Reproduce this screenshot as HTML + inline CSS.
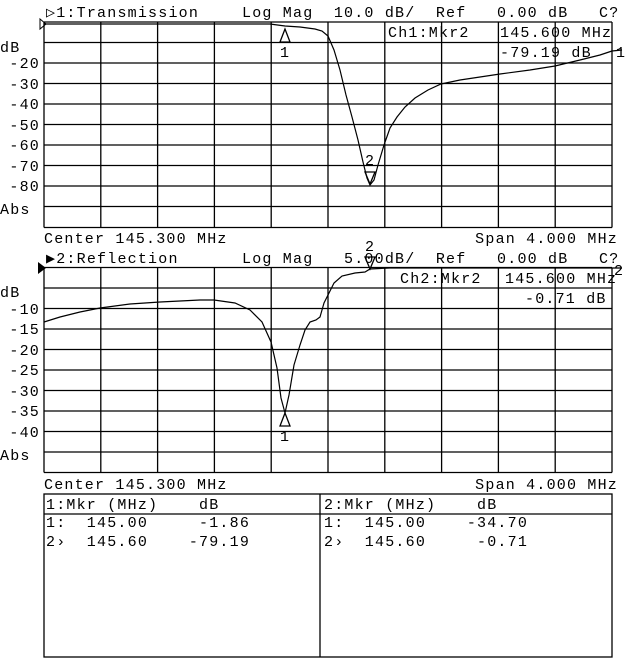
<!DOCTYPE html>
<html><head><meta charset="utf-8"><style>
html,body{margin:0;padding:0;background:#fff;}
svg{display:block;}
text{font-family:"Liberation Mono","DejaVu Sans Mono",monospace;font-size:15px;letter-spacing:1.2px;fill:#000;white-space:pre;}
</style></head><body>
<svg width="640" height="659" viewBox="0 0 640 659" xmlns="http://www.w3.org/2000/svg" xml:space="preserve">
<g stroke="#000" stroke-width="1.3" fill="none">
<path d="M44,22V227.5 M100.8,22V227.5 M157.6,22V227.5 M214.4,22V227.5 M271.2,22V227.5 M328,22V227.5 M384.8,22V227.5 M441.6,22V227.5 M498.4,22V227.5 M555.2,22V227.5 M612,22V227.5"/>
<path d="M44,22H612 M44,42.5H612 M44,63H612 M44,83.5H612 M44,104H612 M44,124.5H612 M44,145H612 M44,165.5H612 M44,186H612 M44,206.5H612 M44,227.5H612"/>
<path d="M44,267.5V472.5 M100.8,267.5V472.5 M157.6,267.5V472.5 M214.4,267.5V472.5 M271.2,267.5V472.5 M328,267.5V472.5 M384.8,267.5V472.5 M441.6,267.5V472.5 M498.4,267.5V472.5 M555.2,267.5V472.5 M612,267.5V472.5"/>
<path d="M44,267.5H612 M44,288H612 M44,308.5H612 M44,329H612 M44,349.5H612 M44,370H612 M44,390.5H612 M44,411H612 M44,431.5H612 M44,452H612 M44,472.5H612"/>
<rect x="44" y="494" width="568" height="163"/>
<path d="M320,494V657 M44,514H612"/>
<path stroke-width="1.2" d="M44,24 L270,24 L285,26 L300,27 L315,29 L322,31 L328,36 L334,50 L340,70 L346,95 L352,117 L358,140 L363,162 L367,178 L370,185 L374,180 L378,165 L384,145 L390,128 L397,117 L405,107 L415,98 L428,90 L441,84 L460,80 L480,77 L500,74 L530,70 L555,66 L580,60 L600,55 L612,51"/>
<path stroke-width="1.2" d="M44,322 L60,317 L80,312 L100,308 L130,304 L160,302 L200,300 L214,300 L235,303 L250,310 L262,322 L271,342 L277,368 L281,398 L285,413 L289,395 L294,365 L300,345 L305,330 L310,322 L316,320 L320,317 L324,303 L328,295 L334,283 L342,276 L355,273 L365,272 L370,269 L390,268 L450,268 L612,268"/>
<path d="M285,29 L280,42 L290,42 Z"/>
<path d="M370,184 L365,172 L375,172 Z"/>
<path d="M285,413 L280,426 L290,426 Z"/>
<path d="M370,269 L365,257 L375,257 Z"/>
<path d="M40,19 L46,24 L40,29 Z" stroke-width="1"/>
<path d="M612,51 L622,50"/>
<path d="M612,268 L622,268"/>
</g>
<path d="M38,262 L46,268 L38,274 Z" fill="#000"/>
<text x="46" y="17">▷1:Transmission</text>
<text x="242" y="17">Log Mag  10.0 dB/  Ref   0.00 dB   C?</text>
<text x="388" y="37">Ch1:Mkr2</text>
<text x="500" y="37">145.600 MHz</text>
<text x="500" y="57">-79.19 dB</text>
<text x="0" y="52">dB</text>
<text x="280" y="57">1</text>
<text x="365" y="165">2</text>
<text x="616" y="57">1</text>
<g text-anchor="end">
<text x="40" y="68">-20</text><text x="40" y="89">-30</text><text x="40" y="109">-40</text><text x="40" y="130">-50</text><text x="40" y="150">-60</text><text x="40" y="171">-70</text><text x="40" y="191">-80</text>
<text x="40" y="314">-10</text><text x="40" y="334">-15</text><text x="40" y="355">-20</text><text x="40" y="375">-25</text><text x="40" y="396">-30</text><text x="40" y="416">-35</text><text x="40" y="437">-40</text>
<text x="618" y="243">Span 4.000 MHz</text>
<text x="618" y="489">Span 4.000 MHz</text>
</g>
<text x="0" y="214">Abs</text>
<text x="44" y="243">Center 145.300 MHz</text>
<text x="46" y="263">▶2:Reflection</text>
<text x="242" y="263">Log Mag   5.00dB/  Ref   0.00 dB   C?</text>
<text x="365" y="251">2</text>
<text x="400" y="283">Ch2:Mkr2</text>
<text x="505" y="283">145.600 MHz</text>
<text x="525" y="303">-0.71 dB</text>
<text x="614" y="275">2</text>
<text x="0" y="297">dB</text>
<text x="280" y="441">1</text>
<text x="0" y="460">Abs</text>
<text x="44" y="489">Center 145.300 MHz</text>
<text x="46" y="509">1:Mkr (MHz)    dB</text>
<text x="46" y="527">1:  145.00     -1.86</text>
<text x="46" y="546">2›  145.60    -79.19</text>
<text x="324" y="509">2:Mkr (MHz)    dB</text>
<text x="324" y="527">1:  145.00    -34.70</text>
<text x="324" y="546">2›  145.60     -0.71</text>
</svg>
</body></html>
